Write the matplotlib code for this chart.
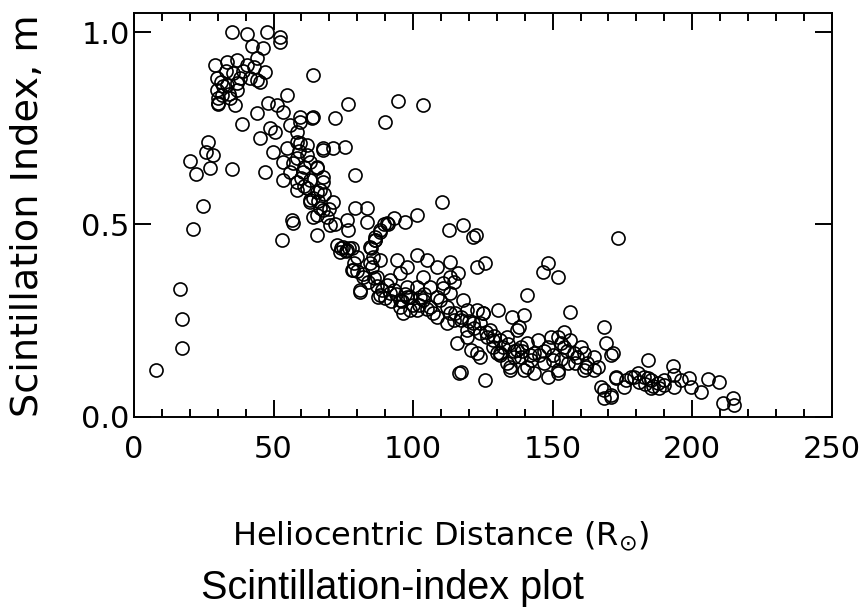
import matplotlib.pyplot as plt
from matplotlib.ticker import MultipleLocator, FormatStrFormatter

# heliocentric distance (solar radii) and scintillation index m
distance = [
    7.9, 17.3, 17.3, 16.5, 21.3, 53.0,
    24.8, 20.1, 22.2, 26.6, 25.8, 27.3, 28.3, 35.2, 47.0, 56.7, 38.8, 30.1,
    35.2, 40.5, 47.7, 52.4, 52.4, 42.3, 46.3, 29.0, 33.4, 36.9, 40.5, 44.1,
    35.5, 41.6, 47.0, 44.1, 29.8, 33.4, 29.8, 31.6, 34.4, 36.2, 30.1, 36.9,
    64.2, 54.9, 48.1, 44.1, 51.3, 53.5, 59.6, 64.2, 48.8, 45.2, 50.6, 56.0,
    58.5, 49.9, 54.9, 58.5, 62.1, 67.8, 53.5, 58.5, 63.2, 56.0, 60.6, 65.7,
    53.5, 58.5, 62.1, 65.7, 67.8, 63.2, 66.7, 65.7,
    76.8, 94.7, 103.7, 90.0, 72.1, 63.9, 59.6,
    79.3, 75.7, 71.4, 67.8, 59.6, 65.7, 67.8, 63.2, 58.5, 66.7, 63.2, 71.4,
    67.8, 64.2, 70.3, 65.7, 57.1, 79.3, 83.6, 83.6, 76.4, 76.8, 72.8, 74.9,
    78.2, 73.9, 80.0, 78.2, 82.2, 81.1, 87.5, 84.7, 86.5, 88.3, 90.8, 93.0,
    97.2, 101.5, 85.8, 85.4, 88.3, 87.2, 91.9, 95.4, 98.0, 91.9, 95.4, 99.0,
    101.5, 105.1, 108.7, 113.4, 116.0, 110.5, 112.7, 118.0, 122.4, 123.0,
    125.9, 103.7, 106.2, 110.9, 101.5, 103.7, 108.7, 113.4, 118.0, 112.3,
    119.5, 123.0, 125.2, 96.5, 101.5,
    173.3, 121.6, 148.2, 146.4, 151.8, 141.0, 156.4, 168.3, 169.0, 170.8,
    172.6, 167.2, 170.8, 168.3, 176.2, 179.0, 116.3, 125.9, 113.4, 114.5,
    110.9, 109.8, 113.4, 117.0, 121.6, 125.2, 130.6, 127.7, 124.1, 119.5,
    115.9, 120.6, 124.1, 128.8, 133.8, 137.4, 139.6, 137.8, 132.4, 130.2,
    133.8, 137.4, 141.0, 144.6, 149.3, 154.0, 152.9, 156.4, 160.0, 158.9,
    162.5, 164.7, 166.1, 134.9, 139.6, 143.2, 148.2, 151.8, 146.8, 150.3,
    155.4, 142.1, 138.5, 135.6, 131.3,
    171.5, 184.0, 193.0, 172.6, 175.5, 178.0, 180.5, 182.6, 185.1, 185.1,
    187.7, 189.8, 193.4, 195.9, 198.8, 203.1, 205.6, 209.5, 199.5, 211.0,
    214.6, 214.9, 170.8, 168.3, 193.4, 189.8,
    161.1, 161.1, 164.7,
    76.4, 78.6, 81.1, 88.3, 90.8, 93.0, 98.0, 95.4, 99.0, 102.6, 106.2,
    108.7, 112.3, 114.5, 119.5, 124.1, 126.6, 128.8, 123.0, 131.3, 136.0,
    138.5, 143.2, 148.2, 151.8, 154.0, 157.5, 151.8, 141.0, 134.9, 117.0,
    94.4, 98.0, 84.7, 86.5,
    32.0, 34.0, 31.0, 37.0, 39.0, 43.0, 45.0, 38.0, 33.0, 30.0,
    57.0, 60.0, 61.0, 62.0, 64.0, 66.0, 68.0, 69.0, 70.0, 72.0, 61.0, 59.0,
    74.0, 76.0, 77.0, 79.0, 80.0, 82.0, 84.0, 86.0, 87.0, 89.0, 90.0, 92.0,
    94.0, 96.0, 97.0, 100.0, 102.0, 104.0, 105.0, 107.0,
    115.0, 117.0, 120.0, 122.0, 126.0, 129.0, 131.0, 134.0, 136.0, 139.0,
    142.0, 145.0, 147.0, 150.0, 153.0, 155.0, 158.0, 162.0,
    181.0, 183.0, 186.0, 188.0, 184.0,
    85.0, 86.5, 88.0, 89.5, 91.0,
]
sci_index = [
    0.121, 0.180, 0.254, 0.332, 0.488, 0.460,
    0.548, 0.665, 0.631, 0.715, 0.689, 0.647, 0.681, 0.645, 0.637, 0.512, 0.762, 0.814,
    1.000, 0.996, 1.000, 0.988, 0.975, 0.965, 0.960, 0.915, 0.923, 0.928, 0.915, 0.933,
    0.894, 0.882, 0.897, 0.876, 0.882, 0.863, 0.850, 0.837, 0.829, 0.811, 0.816, 0.868,
    0.889, 0.837, 0.816, 0.790, 0.811, 0.793, 0.780, 0.780, 0.751, 0.725, 0.741, 0.759,
    0.741, 0.689, 0.699, 0.715, 0.707, 0.699, 0.663, 0.673, 0.663, 0.637, 0.637, 0.647,
    0.616, 0.611, 0.595, 0.585, 0.611, 0.559, 0.543, 0.525,
    0.814, 0.822, 0.811, 0.767, 0.777, 0.777, 0.767,
    0.629, 0.702, 0.699, 0.694, 0.712, 0.650, 0.624, 0.616, 0.590, 0.590, 0.564, 0.559,
    0.538, 0.520, 0.499, 0.473, 0.504, 0.543, 0.543, 0.506, 0.512, 0.486, 0.447, 0.441,
    0.439, 0.428, 0.415, 0.381, 0.363, 0.324, 0.311, 0.441, 0.467, 0.486, 0.504, 0.517,
    0.506, 0.525, 0.415, 0.389, 0.407, 0.363, 0.355, 0.373, 0.337, 0.321, 0.303, 0.311,
    0.420, 0.407, 0.389, 0.402, 0.373, 0.559, 0.486, 0.499, 0.473, 0.389,
    0.400, 0.363, 0.337, 0.347, 0.337, 0.303, 0.311, 0.321, 0.303, 0.285,
    0.277, 0.277, 0.269, 0.269, 0.277,
    0.465, 0.467, 0.400, 0.376, 0.363, 0.316, 0.272, 0.233, 0.191, 0.160,
    0.103, 0.077, 0.056, 0.048, 0.095, 0.103, 0.113, 0.095, 0.363, 0.350,
    0.334, 0.303, 0.269, 0.251, 0.243, 0.269, 0.277, 0.225, 0.217, 0.207,
    0.191, 0.173, 0.155, 0.199, 0.207, 0.225, 0.264, 0.233, 0.181, 0.165,
    0.139, 0.173, 0.191, 0.199, 0.207, 0.220, 0.191, 0.199, 0.181, 0.155,
    0.139, 0.155, 0.129, 0.121, 0.121, 0.113, 0.103, 0.121, 0.139, 0.147,
    0.139, 0.147, 0.155, 0.259, 0.160,
    0.165, 0.147, 0.131, 0.100, 0.077, 0.103, 0.113, 0.103, 0.095, 0.074,
    0.087, 0.095, 0.077, 0.095, 0.100, 0.064, 0.098, 0.090, 0.077, 0.035,
    0.048, 0.030, 0.051, 0.069, 0.108, 0.082,
    0.165, 0.121, 0.121,
    0.434, 0.381, 0.329, 0.316, 0.342, 0.329, 0.311, 0.285, 0.277, 0.311, 0.285,
    0.259, 0.243, 0.251, 0.225, 0.243, 0.207, 0.181, 0.165, 0.165, 0.155,
    0.181, 0.165, 0.181, 0.207, 0.181, 0.165, 0.113, 0.129, 0.129, 0.116,
    0.407, 0.389, 0.400, 0.460,
    0.860, 0.840, 0.870, 0.850, 0.900, 0.910, 0.870, 0.880, 0.900, 0.830,
    0.660, 0.620, 0.600, 0.680, 0.570, 0.560, 0.580, 0.520, 0.540, 0.500, 0.650, 0.690,
    0.440, 0.430, 0.440, 0.400, 0.380, 0.370, 0.350, 0.360, 0.340, 0.330, 0.310, 0.300,
    0.320, 0.300, 0.320, 0.290, 0.290, 0.320, 0.280, 0.270,
    0.270, 0.260, 0.250, 0.230, 0.220, 0.210, 0.200, 0.190, 0.170, 0.170,
    0.160, 0.160, 0.170, 0.160, 0.150, 0.170, 0.140, 0.130,
    0.090, 0.085, 0.080, 0.075, 0.100,
    0.440, 0.460, 0.480, 0.500, 0.500,
]

x_ticks = [0, 50, 100, 150, 200, 250]
y_ticks = [0.0, 0.5, 1.0]

fig = plt.figure(figsize=(8.65, 6.13), dpi=100)
ax = fig.add_axes([0.1549, 0.3202, 0.8066, 0.6586])

ax.plot(distance, sci_index, linestyle='none', marker='o', markersize=9.4,
        markerfacecolor='none', markeredgecolor='black', markeredgewidth=1.2)

ax.set_xlim(0, 250)
ax.set_ylim(0, 1.05)
ax.set_xticks(x_ticks)
ax.set_yticks(y_ticks)
ax.xaxis.set_minor_locator(MultipleLocator(10))
ax.yaxis.set_major_formatter(FormatStrFormatter('%.1f'))

for s in ax.spines.values():
    s.set_linewidth(1.4)

ax.tick_params(axis='x', which='major', direction='in', length=12, width=1.4,
               top=True, pad=13, labelsize=22)
ax.tick_params(axis='x', which='minor', direction='in', length=5.5, width=1.4, top=True)
ax.tick_params(axis='y', which='major', direction='in', length=12, width=1.4,
               right=True, pad=3, labelsize=22)

fig.text(0.0318, 1 - 216 / 613, "Scintillation Index, m", rotation=90,
         ha='center', va='center', fontsize=27.5)
fig.text(441 / 865, 1 - 536 / 613, r"Heliocentric Distance (R$_{\odot}$)",
         ha='center', va='center', fontsize=23)
fig.text(392 / 865, 1 - 588 / 613, "Scintillation-index plot",
         ha='center', va='center', fontsize=28.5, family='Liberation Sans')

fig.savefig("out.png", dpi=100)
